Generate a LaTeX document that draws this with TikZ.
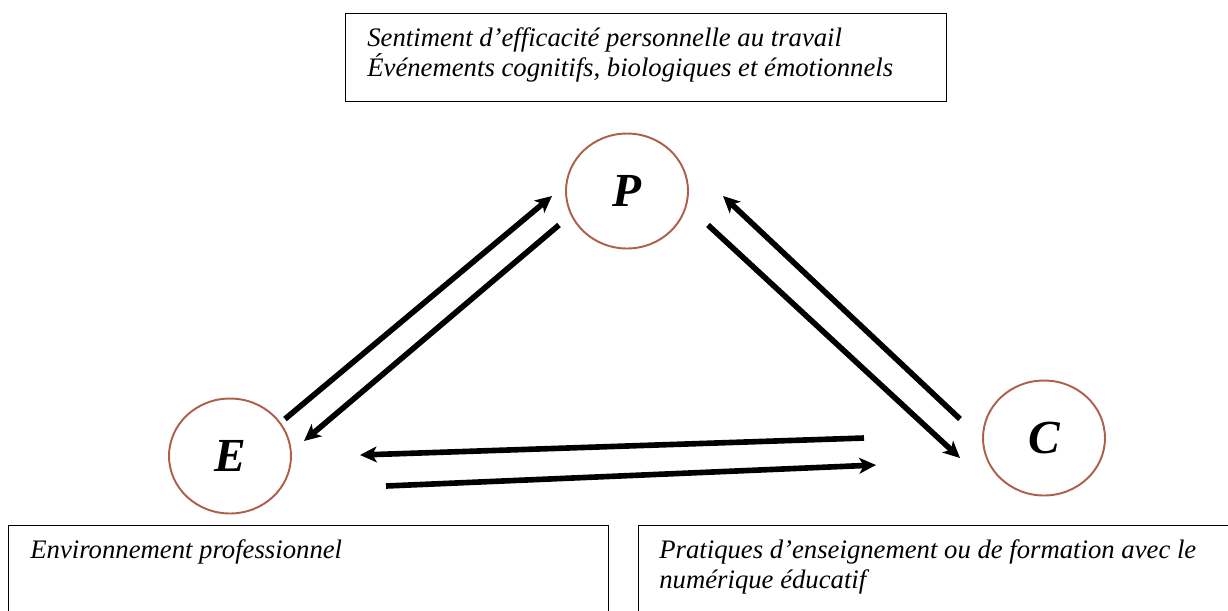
\documentclass[tikz,border=0pt]{standalone}
\usepackage{fontspec}
\setmainfont{Liberation Serif}
\usetikzlibrary{arrows.meta,shapes.geometric}
\definecolor{ringbrown}{RGB}{172,96,74}

\begin{document}
\begin{tikzpicture}[
		x=0.02cm, y=-0.02cm,
		arrow/.style={line width=3.2pt, -{Stealth[length=9.5pt, width=9pt, inset=2.5pt]}},
		pole/.style={draw=ringbrown, line width=1.1pt, ellipse, minimum width=2.44cm, minimum height=2.3cm, font=\fontsize{27}{30}\selectfont\bfseries\itshape},
		block/.style={draw, line width=0.8pt, rectangle, inner sep=0pt, anchor=north west},
		caption/.style={anchor=base west, inner sep=0pt, align=left, font=\fontsize{15.2}{17}\selectfont\itshape},
	]
		\useasboundingbox (0,0) rectangle (1228,610);

		% poles of the triad
		\node (P) [pole] at (627,191) {P};
		\node (E) [pole] at (230,456) {E};
		\node (C) [pole] at (1044,438) {C};

		% boxes and their texts
		\node (topbox) [block, minimum width=12.02cm, minimum height=1.76cm] at (345,13) {};
		\node (leftbox) [block, minimum width=12cm, minimum height=2.4cm] at (8,525) {};
		\node (rightbox) [block, minimum width=12cm, minimum height=2.4cm] at (638,525) {};
		\node (toptext) [caption] at (367,76) {Sentiment d’efficacité personnelle au travail\\Événements cognitifs, biologiques et émotionnels};
		\node (lefttext) [caption] at (30,558) {Environnement professionnel};
		\node (righttext) [caption] at (659,588) {Pratiques d’enseignement ou de formation avec le\\numérique éducatif};

		% ends of the arrows
		\coordinate (EP-a) at (285,419);
		\coordinate (EP-b) at (552,196);
		\coordinate (PE-a) at (559,225);
		\coordinate (PE-b) at (304,441);
		\coordinate (PC-a) at (708,225);
		\coordinate (PC-b) at (960,458);
		\coordinate (CP-a) at (960,419);
		\coordinate (CP-b) at (723,196);
		\coordinate (CE-a) at (864,438);
		\coordinate (CE-b) at (360,455);
		\coordinate (EC-a) at (386,486);
		\coordinate (EC-b) at (876,465);

		\draw[arrow] (EP-a) -- (EP-b);
		\draw[arrow] (PE-a) -- (PE-b);
		\draw[arrow] (PC-a) -- (PC-b);
		\draw[arrow] (CP-a) -- (CP-b);
		\draw[arrow] (CE-a) -- (CE-b);
		\draw[arrow] (EC-a) -- (EC-b);
	\end{tikzpicture}
\end{document}
